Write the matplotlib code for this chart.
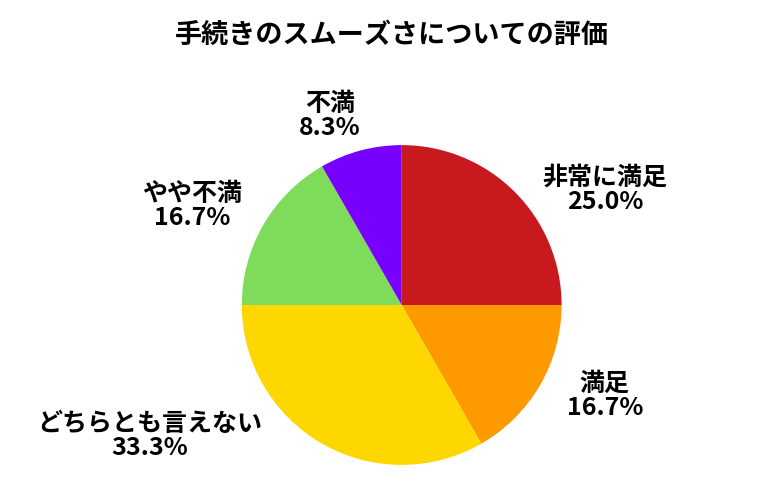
import matplotlib.pyplot as plt
import numpy as np

plt.rcParams['font.family'] = ['Noto Sans CJK JP', 'DejaVu Sans']

# データ
categories = ['非常に満足', '満足', 'どちらとも言えない', 'やや不満', '不満']
values = [25.0, 16.7, 33.3, 16.7, 8.3]
colors = ['#C8191E', '#FF9900', '#FFD700', '#7FDB5A', '#7700FF']

# ラベル位置（半径1の円に対する相対位置）
label_pos = [(1.27, 0.72), (1.27, -0.57), (-1.575, -0.82), (-1.31, 0.62), (-0.45, 1.18)]

fig = plt.figure(figsize=(7.8, 5), dpi=100)
ax = fig.add_axes([0.31, 0.07, 0.41, 0.64])

ax.pie(values, colors=colors, startangle=90, counterclock=False,
       wedgeprops=dict(linewidth=0))
ax.set_xlim(-1, 1)
ax.set_ylim(-1, 1)
ax.set_aspect('equal')

for cat, v, (x, y) in zip(categories, values, label_pos):
    ax.text(x, y, f'{cat}\n{v:.1f}%', ha='center', va='center',
            fontsize=18, fontweight='bold', linespacing=1.0, clip_on=False)

fig.text(0.503, 0.93, '手続きのスムーズさについての評価', ha='center', va='center',
         fontsize=19.5, fontweight='bold')

fig.savefig('out.png', dpi=100)
